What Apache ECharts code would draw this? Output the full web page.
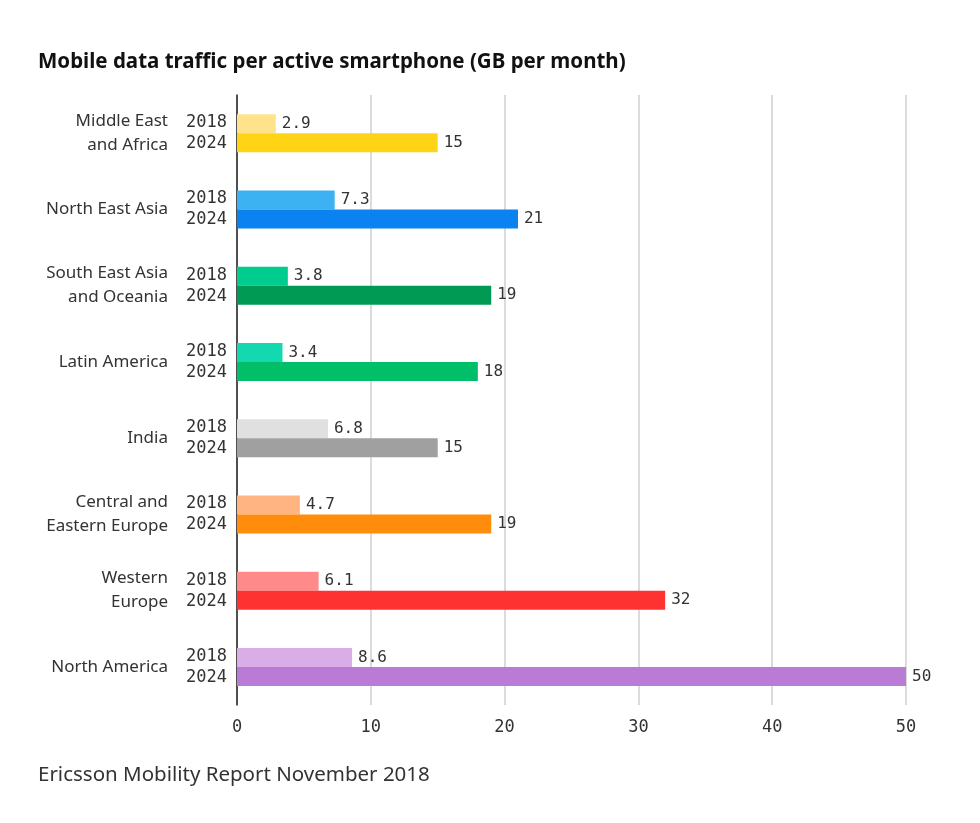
<!DOCTYPE html>
<html>
<head>
<meta charset="utf-8">
<script src="https://cdn.jsdelivr.net/npm/echarts@6/dist/echarts.min.js"></script>
<style>
html, body { margin: 0; padding: 0; background: #fff; }
#chart { width: 980px; height: 823px; }
</style>
</head>
<body>
<div id="chart"></div>
<script>
var regions = ['Middle East\nand Africa', 'North East Asia', 'South East Asia\nand Oceania', 'Latin America',
    'India', 'Central and\nEastern Europe', 'Western\nEurope', 'North America'];
var years = ['2018', '2024'];
var values2018 = [2.9, 7.3, 3.8, 3.4, 6.8, 4.7, 6.1, 8.6];
var values2024 = [15, 21, 19, 18, 15, 19, 32, 50];
var colors2018 = ['#FFE38C', '#3DB2F2', '#00CC8E', '#14D9B0', '#E0E0E0', '#FFB482', '#FF8A8A', '#D9AEE6'];
var colors2024 = ['#FFD414', '#0A82F0', '#009A55', '#00BF68', '#A0A0A0', '#FF8C0A', '#FF3232', '#BA7BD6'];
var xTicks = [0, 10, 20, 30, 40, 50];

var mono = '"DejaVu Sans Mono", monospace';
var sans = '"Noto Sans", sans-serif';

function coloured(values, colors) {
    return values.map(function (v, i) {
        return { value: v, itemStyle: { color: colors[i] } };
    });
}

window.onload = function () {
    var myChart = echarts.init(document.getElementById('chart'));
    var valueLabel = { show: true, position: 'right', distance: 6, fontFamily: mono, fontSize: 16, color: '#333' };
    var option = {
        animation: false,
        title: [
            {
                text: 'Mobile data traffic per active smartphone (GB per month)',
                left: 38, top: 52, padding: 0,
                textStyle: { fontFamily: sans, fontSize: 20.5, fontWeight: 'bold', color: '#111' }
            },
            {
                text: 'Ericsson Mobility Report November 2018',
                left: 38, top: 765, padding: 0,
                textStyle: { fontFamily: sans, fontSize: 20.5, fontWeight: 'normal', color: '#333' }
            }
        ],
        grid: { left: 237, right: 74, top: 95, bottom: 118 },
        xAxis: {
            type: 'value',
            min: xTicks[0],
            max: xTicks[xTicks.length - 1],
            interval: 10,
            axisLine: { show: false },
            axisTick: { show: false },
            axisLabel: { fontFamily: mono, fontSize: 17, color: '#333', margin: 14 },
            splitLine: { lineStyle: { color: '#cfcfcf', width: 1.5 } }
        },
        yAxis: [
            {
                type: 'category',
                data: regions,
                inverse: true,
                axisLine: { show: true, lineStyle: { color: '#222', width: 1.5 } },
                axisTick: { show: false },
                axisLabel: {
                    formatter: function () { return years.join('\n'); },
                    fontFamily: mono, fontSize: 17, color: '#333', lineHeight: 21, margin: 10
                }
            },
            {
                type: 'category',
                data: regions,
                inverse: true,
                position: 'left',
                axisLine: { show: false },
                axisTick: { show: false },
                axisLabel: {
                    fontFamily: sans, fontSize: 17, color: '#333', lineHeight: 24, margin: 69, align: 'right'
                }
            }
        ],
        series: [
            {
                name: years[0],
                type: 'bar',
                barWidth: 19,
                barGap: '0%',
                data: coloured(values2018, colors2018),
                label: valueLabel
            },
            {
                name: years[1],
                type: 'bar',
                barWidth: 19,
                barGap: '0%',
                data: coloured(values2024, colors2024),
                label: valueLabel
            }
        ]
    };
    myChart.setOption(option);
};
</script>
</body>
</html>
